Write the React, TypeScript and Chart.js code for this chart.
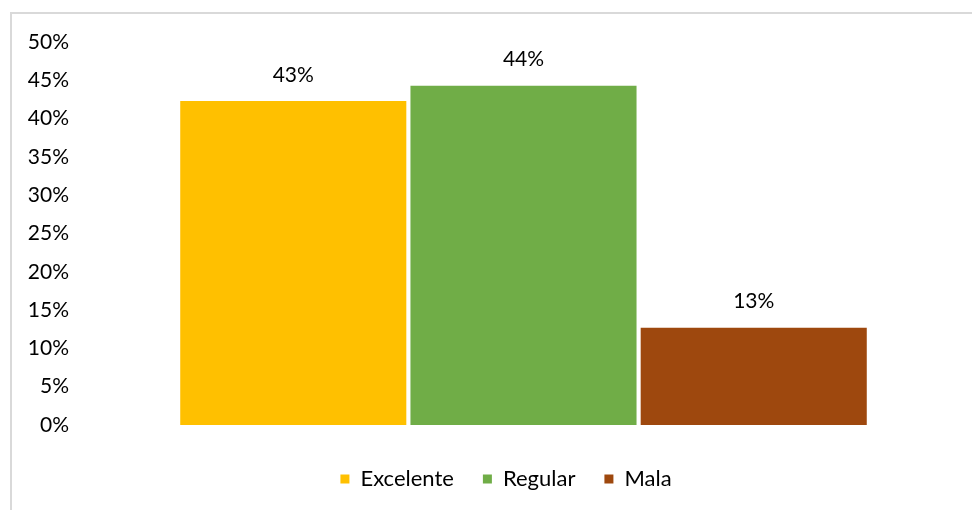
import React, { useEffect, useRef } from "react";
import { Chart, registerables } from "chart.js";

Chart.register(...registerables);

const categories = [""];
const seriesNames = ["Excelente", "Regular", "Mala"];
const seriesValues = [0.423, 0.443, 0.127];
const seriesLabels = ["43%", "44%", "13%"];
const seriesColors = ["#FFC000", "#70AD47", "#9E480E"];
const tickValues = [0, 0.05, 0.1, 0.15, 0.2, 0.25, 0.3, 0.35, 0.4, 0.45, 0.5];

const FONT = "Lato, 'Open Sans', sans-serif";

const dataLabelPlugin = {
  id: "dataLabels",
  afterDatasetsDraw(chart: any) {
    const ctx = chart.ctx;
    ctx.save();
    ctx.font = `21px ${FONT}`;
    ctx.fillStyle = "#000000";
    ctx.textAlign = "center";
    ctx.textBaseline = "middle";
    chart.data.datasets.forEach((ds: any, i: number) => {
      const meta = chart.getDatasetMeta(i);
      meta.data.forEach((bar: any) => {
        ctx.fillText(seriesLabels[i], bar.x, bar.y - 26);
      });
    });
    ctx.restore();
  },
};

const legendShiftPlugin = {
  id: "legendShift",
  afterLayout(chart: any) {
    if (chart.legend) {
      chart.legend.left += 20;
      chart.legend.right += 20;
    }
  },
};

export default function App() {
  const ref = useRef<HTMLCanvasElement>(null);
  useEffect(() => {
    if (!ref.current) return;
    const chart = new Chart(ref.current, {
      type: "bar",
      data: {
        labels: categories,
        datasets: seriesNames.map((name, i) => ({
          label: name,
          data: [seriesValues[i]],
          backgroundColor: seriesColors[i],
          borderWidth: 0,
          categoryPercentage: 0.77,
          barPercentage: 0.982,
        })),
      },
      options: {
        animation: false,
        responsive: false,
        maintainAspectRatio: false,
        layout: { padding: { top: 42, left: 0, right: 0, bottom: 10 } },
        plugins: {
          legend: {
            position: "bottom",
            labels: {
              font: { family: FONT, size: 22 },
              color: "#000000",
              boxWidth: 9,
              boxHeight: 9,
              padding: 29,
              useBorderRadius: false,
            },
          },
          tooltip: { enabled: false },
        },
        scales: {
          x: {
            display: true,
            grid: { display: false, drawTicks: false },
            border: { display: false },
            ticks: { display: false },
            afterFit: (scale: any) => {
              scale.height = 14;
            },
          },
          y: {
            min: 0,
            max: 0.5,
            afterFit: (scale: any) => {
              scale.width = 75;
            },
            afterBuildTicks: (scale: any) => {
              scale.ticks = tickValues.map((v) => ({ value: v }));
            },
            grid: { display: false, drawTicks: false },
            border: { display: false },
            ticks: {
              padding: 6,
              color: "#000000",
              font: { family: FONT, size: 21 },
              callback: (v: any) => `${Math.round(Number(v) * 100)}%`,
            },
          },
        },
      },
      plugins: [dataLabelPlugin, legendShiftPlugin],
    });
    return () => chart.destroy();
  }, []);
  return (
    <div style={{ position: "fixed", left: 0, top: 0, width: 972, height: 510, background: "#ffffff", overflow: "hidden" }}>
      <div style={{ position: "absolute", left: 10, top: 12, width: 1000, height: 600, borderLeft: "2px solid #d9d9d9", borderTop: "2px solid #d9d9d9" }} />
      <canvas ref={ref} width={972} height={510} style={{ position: "absolute", left: 0, top: 0, width: 972, height: 510 }} />
    </div>
  );
}
